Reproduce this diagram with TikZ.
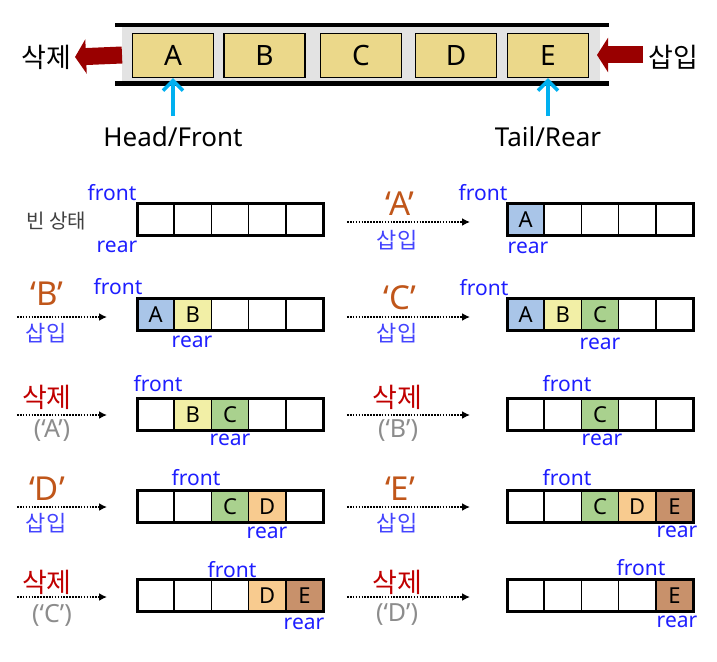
\documentclass[tikz,border=0pt]{standalone}
\usepackage{fontspec}
\setmainfont{Noto Sans}
\newfontfamily\kr{Noto Sans CJK KR}
\usetikzlibrary{arrows.meta}
\definecolor{qA}{HTML}{A9C5E8}
\definecolor{qB}{HTML}{F2EFA6}
\definecolor{qC}{HTML}{A9D18E}
\definecolor{qD}{HTML}{F8CB8F}
\definecolor{qE}{HTML}{C8916B}
\definecolor{topyel}{HTML}{EBD88A}
\definecolor{band}{HTML}{E3E3E3}
\definecolor{darkred}{HTML}{990000}
\definecolor{cyanA}{HTML}{00B0F0}
\definecolor{qbrown}{HTML}{C0561A}
\definecolor{insblue}{HTML}{4444FF}
\definecolor{frblue}{HTML}{1E1EFF}
\definecolor{delred}{HTML}{C00000}
\definecolor{qgray}{HTML}{8C8C8C}
\definecolor{dgray}{HTML}{404040}
\newcommand\qrow[4]{%
  \foreach \c/\l [count=\k from 0] in {#4} {
    \node[cell, fill=\c, anchor=north west] (#1c\k) at ({#2+\k*37.2},{#3+0.75}) {\l};
  }
  \draw[outerbox] (#1c0.north west) rectangle (#1c4.south east);
}
\begin{document}
\begin{tikzpicture}[x=1pt,y=-1pt,
  topbox/.style={draw, line width=1.2pt, fill=topyel, minimum width=81pt, minimum height=44pt, inner sep=0, font=\fontsize{28}{28}\selectfont},
  cell/.style={draw, line width=1.5pt, minimum width=37.2pt, minimum height=31.5pt, inner sep=0, outer sep=0, font=\fontsize{22}{22}\selectfont},
  outerbox/.style={draw, line width=3pt},
  lab/.style={inner sep=0, anchor=center},
  bigkr/.style={lab, font=\kr\fontsize{27}{27}\selectfont},
  pointer/.style={lab, text=frblue, font=\fontsize{21}{21}\selectfont},
  quoted/.style={lab, text=qbrown, font=\fontsize{33}{33}\selectfont},
  ins/.style={lab, text=insblue, font=\kr\fontsize{22}{22}\selectfont},
  del/.style={lab, text=delred, font=\kr\fontsize{27}{27}\selectfont},
  delq/.style={lab, text=qgray, font=\fontsize{25}{25}\selectfont},
  fatarrow/.style={draw=darkred, line width=17pt, -{Triangle[length=11pt,width=34pt]}},
  cyanarrow/.style={draw=cyanA, line width=3.5pt, -{Straight Barb[length=10pt,width=20pt,line width=3.5pt]}},
  dotarrow/.style={line width=1.8pt, dash pattern=on 1.6pt off 1.3pt, -{Latex[length=8pt,width=8pt]}}
]
\useasboundingbox (0,0) rectangle (717,661);
% ---------- top queue ----------
\fill[band] (122,27) rectangle (600,81);
\draw[line width=4.5pt] (115,25) -- (609,25);
\draw[line width=5pt] (115,83.5) -- (609,83.5);
\node[topbox] (A) at (173,55.5) {A};
\node[topbox] (B) at (264.5,55.5) {B};
\node[topbox] (C) at (361,55.5) {C};
\node[topbox] (D) at (456,55.5) {D};
\node[topbox] (E) at (548,55.5) {E};
\node[bigkr] (del) at (46,57) {삭제};
\node[bigkr] (ins) at (673,57) {삽입};
\coordinate (bandL) at (122,55);
\coordinate (bandR) at (643,55);
\coordinate (tipR) at (597,55);
\draw[fatarrow] (bandL) -- ([xshift=4pt]del.east);
\draw[fatarrow] (bandR) -- (tipR);
\node[lab, font=\fontsize{26}{26}\selectfont] (hf) at (173,137) {Head/Front};
\node[lab, font=\fontsize{26}{26}\selectfont] (tr) at (548,137) {Tail/Rear};
\coordinate (hfa) at (173,116);
\coordinate (tra) at (548,116);
\draw[cyanarrow] (hfa) -- (A.south);
\draw[cyanarrow] (tra) -- (E.south);
% ---------- row 1 ----------
\qrow{La}{137}{203}{white/{},white/{},white/{},white/{},white/{}}
\node[pointer] (Laf) at (112,193) {front};
\node[pointer] (Lar) at (117,247) {rear};
\node[lab, text=dgray, font=\kr\fontsize{20}{20}\selectfont] (empty) at (56,221) {빈 상태};
\qrow{Ra}{507}{203}{qA/A,white/{},white/{},white/{},white/{}}
\node[pointer] (Raf) at (483,193) {front};
\node[pointer] (Rar) at (528,248) {rear};
\node[quoted] (Raq) at (400,204) {‘A’};
\node[ins] (Rai) at (397,240) {삽입};
\coordinate (Ras) at (347,222); \coordinate (Rae) at (470,222);
\draw[dotarrow] (Ras) -- (Rae);
% ---------- row 2 ----------
\qrow{Lb}{137}{298}{qA/A,qB/B,white/{},white/{},white/{}}
\node[pointer] (Lbf) at (118,287) {front};
\node[pointer] (Lbr) at (192,342) {rear};
\node[quoted] (Lbq) at (47,294) {‘B’};
\node[ins] (Lbi) at (46,333) {삽입};
\coordinate (Lbs) at (17,317); \coordinate (Lbe) at (107,317);
\draw[dotarrow] (Lbs) -- (Lbe);
\qrow{Rb}{507}{298}{qA/A,qB/B,qC/C,white/{},white/{}}
\node[pointer] (Rbf) at (484,288) {front};
\node[pointer] (Rbr) at (600,344) {rear};
\node[quoted] (Rbq) at (400,298) {‘C’};
\node[ins] (Rbi) at (397,333) {삽입};
\coordinate (Rbs) at (347,317); \coordinate (Rbe) at (470,317);
\draw[dotarrow] (Rbs) -- (Rbe);
% ---------- row 3 ----------
\qrow{Lc}{137}{398}{white/{},qB/B,qC/C,white/{},white/{}}
\node[pointer] (Lcf) at (158,384) {front};
\node[pointer] (Lcr) at (230,439.5) {rear};
\node[del] (Lcd) at (47,397) {삭제};
\node[delq] (Lcq) at (52,431) {(‘A’)};
\coordinate (Lcs) at (17,415); \coordinate (Lce) at (107,415);
\draw[dotarrow] (Lcs) -- (Lce);
\qrow{Rc}{507}{398}{white/{},white/{},qC/C,white/{},white/{}}
\node[pointer] (Rcf) at (567,384) {front};
\node[pointer] (Rcr) at (602,439.5) {rear};
\node[del] (Rcd) at (397,397) {삭제};
\node[delq] (Rcq) at (398,431) {(‘B’)};
\coordinate (Rcs) at (347,415); \coordinate (Rce) at (470,415);
\draw[dotarrow] (Rcs) -- (Rce);
% ---------- row 4 ----------
\qrow{Ld}{137}{490}{white/{},white/{},qC/C,qD/D,white/{}}
\node[pointer] (Ldf) at (196,478) {front};
\node[pointer] (Ldr) at (267,532.5) {rear};
\node[quoted] (Ldq) at (47,489) {‘D’};
\node[ins] (Ldi) at (46,523) {삽입};
\coordinate (Lds) at (17,507); \coordinate (Lde) at (107,507);
\draw[dotarrow] (Lds) -- (Lde);
\qrow{Rd}{507}{490}{white/{},white/{},qC/C,qD/D,qE/E}
\node[pointer] (Rdf) at (567,478) {front};
\node[pointer] (Rdr) at (677,532) {rear};
\node[quoted] (Rdq) at (400,489) {‘E’};
\node[ins] (Rdi) at (397,523) {삽입};
\coordinate (Rds) at (347,507); \coordinate (Rde) at (470,507);
\draw[dotarrow] (Rds) -- (Rde);
% ---------- row 5 ----------
\qrow{Le}{137}{579}{white/{},white/{},white/{},qD/D,qE/E}
\node[pointer] (Lef) at (232,570) {front};
\node[pointer] (Ler) at (304,623.5) {rear};
\node[del] (Led) at (47,582) {삭제};
\node[delq] (Leq) at (52,615) {(‘C’)};
\coordinate (Les) at (17,597); \coordinate (Lee) at (107,597);
\draw[dotarrow] (Les) -- (Lee);
\qrow{Re}{507}{579}{white/{},white/{},white/{},white/{},qE/E}
\node[pointer] (Ref) at (641,568) {front};
\node[pointer] (Rer) at (677,621.5) {rear};
\node[del] (Red) at (397,582) {삭제};
\node[delq] (Req) at (397,615) {(‘D’)};
\coordinate (Res) at (347,597); \coordinate (Ree) at (470,597);
\draw[dotarrow] (Res) -- (Ree);
\end{tikzpicture}
\end{document}
